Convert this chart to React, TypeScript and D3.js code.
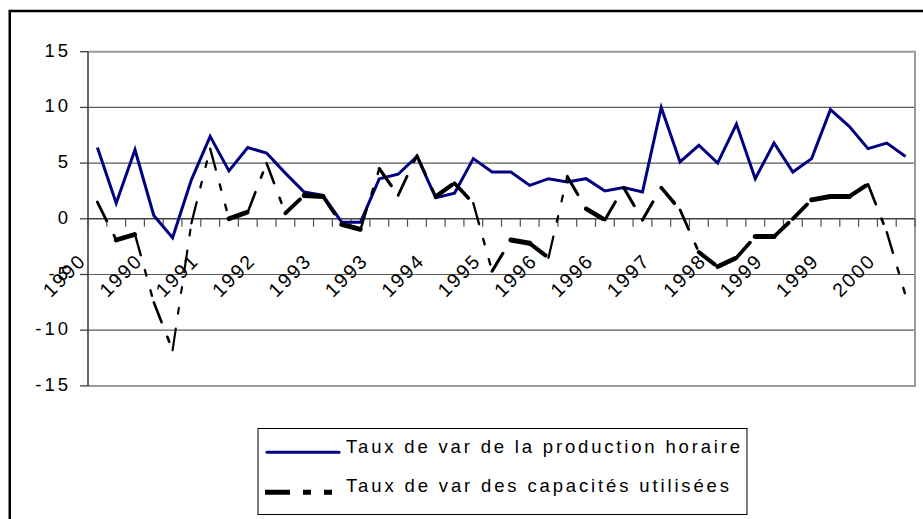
import React from "react";
import * as d3 from "d3";

// one label per quarter, 1990 T1 .. 2000 T4
const periods = [
  "1990", "1990", "1990", "1990", "1991", "1991", "1991", "1991",
  "1992", "1992", "1992", "1992", "1993", "1993", "1993", "1993",
  "1994", "1994", "1994", "1994", "1995", "1995", "1995", "1995",
  "1996", "1996", "1996", "1996", "1997", "1997", "1997", "1997",
  "1998", "1998", "1998", "1998", "1999", "1999", "1999", "1999",
  "2000", "2000", "2000", "2000",
];

const productionHoraire = [
  6.4, 1.4, 6.2, 0.3, -1.7, 3.5, 7.4, 4.3, 6.4, 5.9, 4.1, 2.4,
  2.1, -0.3, -0.3, 3.6, 4.0, 5.6, 1.9, 2.3, 5.4, 4.2, 4.2, 3.0,
  3.6, 3.3, 3.6, 2.5, 2.8, 2.4, 10.0, 5.1, 6.6, 5.0, 8.5, 3.6,
  6.8, 4.2, 5.4, 9.8, 8.3, 6.3, 6.8, 5.6,
];

const capacitesUtilisees = [
  1.5, -1.9, -1.4, -7.5, -11.8, -0.4, 6.3, 0.0, 0.6, 5.0, 0.5, 2.1,
  2.0, -0.5, -0.95, 4.5, 2.1, 5.7, 2.0, 3.2, 1.4, -4.7, -1.9, -2.2,
  -3.5, 3.8, 0.9, -0.1, 2.8, -0.1, 2.8, 0.8, -3.0, -4.3, -3.5, -1.6,
  -1.6, 0.0, 1.7, 2.0, 2.0, 3.1, -1.2, -6.9,
];

const yTicks = [15, 10, 5, 0, -5, -10, -15];
const seriesNames = [
  "Taux de var de la production horaire",
  "Taux de var des capacités utilisées",
];

const W = 923;
const H = 519;
const left = 88;
const right = 915;
const top = 51.7;
const bottom = 385.9;
const font = "'Liberation Sans', Arial, sans-serif";
const dashPattern = [24, 13, 8, 13, 8, 13];

export default function App() {
  const idx = periods.map((_, i) => i);
  const x = d3.scaleBand<number>().domain(idx).range([left, right]);
  const y = d3.scaleLinear().domain([-15, 15]).range([bottom, top]);
  const cx = (i: number) => (x(i) as number) + x.bandwidth() / 2;

  const blueLine = d3
    .line<number>()
    .x((d, i) => cx(i))
    .y((d) => y(d))(productionHoraire);

  // the black series is drawn segment by segment: the dash restarts at each point
  // and the pen is thicker on flat segments than on steep ones
  const segments = d3.pairs(capacitesUtilisees).map(([a, b], i) => {
    const x1 = cx(i), y1 = y(a), x2 = cx(i + 1), y2 = y(b);
    const len = Math.hypot(x2 - x1, y2 - y1);
    const s = (y2 - y1) / len, c = (x2 - x1) / len;
    const w = 2 * Math.sqrt((1.0 * s) ** 2 + (2.5 * c) ** 2);
    const dash = dashPattern.map((v, k) => (k % 2 === 0 ? Math.max(v - w, 0.5) : v + w)).join(" ");
    return { x1, y1, x2, y2, w, dash, key: i };
  });

  const labelIdx = idx.filter((i) => i % 3 === 0);

  return (
    <svg width={W} height={H} style={{ position: "absolute", left: 0, top: 0, background: "#fff" }} fontFamily={font}>
      <rect x={9.75} y={11} width={980} height={600} fill="#fff" stroke="#000" strokeWidth={2.5} />

      {/* gridlines */}
      {yTicks.filter((t) => t !== 15 && t !== -15 && t !== 0).map((t) => (
        <line key={t} x1={left} x2={right} y1={y(t)} y2={y(t)} stroke="#5a5a5a" strokeWidth={1.2} />
      ))}
      {/* plot area border */}
      <path d={`M${left},${top}H${right}V${bottom}H${left}`} fill="none" stroke="#9a9a9a" strokeWidth={2} />

      {/* y axis */}
      <line x1={left} x2={left} y1={top} y2={bottom} stroke="#404040" strokeWidth={1.6} />
      {yTicks.map((t) => (
        <g key={t}>
          <line x1={left - 8} x2={left} y1={y(t)} y2={y(t)} stroke="#404040" strokeWidth={1.3} />
          <text x={71} y={y(t) + 5} textAnchor="end" fontSize={18.5} letterSpacing={3} fill="#000">
            {t}
          </text>
        </g>
      ))}

      {/* x axis at 0 */}
      <line x1={left} x2={right} y1={y(0)} y2={y(0)} stroke="#404040" strokeWidth={1.6} />
      {idx.concat([periods.length]).map((i) => {
        const tx = i < periods.length ? (x(i) as number) : right;
        return <line key={i} x1={tx} x2={tx} y1={y(0)} y2={y(0) + 8} stroke="#505050" strokeWidth={1.2} />;
      })}
      {labelIdx.map((i) => (
        <text
          key={i}
          transform={`translate(${cx(i) - 10},${y(0) + 43}) rotate(-45)`}
          textAnchor="end"
          fontSize={19.5}
          letterSpacing={2}
          fill="#000"
        >
          {periods[i]}
        </text>
      ))}

      {/* series */}
      <path d={blueLine ?? ""} fill="none" stroke="#000080" strokeWidth={3} />
      {segments.map((sg) => (
        <line
          key={sg.key}
          x1={sg.x1}
          y1={sg.y1}
          x2={sg.x2}
          y2={sg.y2}
          stroke="#000"
          strokeWidth={sg.w}
          strokeDasharray={sg.dash}
          strokeLinecap="round"
        />
      ))}

      {/* legend */}
      <rect x={258} y={428.5} width={489} height={86} fill="#fff" stroke="#000" strokeWidth={1} />
      <line x1={267} x2={339} y1={452.3} y2={452.3} stroke="#000080" strokeWidth={3} strokeLinecap="round" />
      <line x1={265} x2={340} y1={492.3} y2={492.3} stroke="#000" strokeWidth={5} strokeDasharray="25 13 8 13 8 13" />
      <text x={346} y={453.3} fontSize={18.5} textLength={394} lengthAdjust="spacing" fill="#000">
        {seriesNames[0]}
      </text>
      <text x={346} y={491.7} fontSize={18.5} textLength={383} lengthAdjust="spacing" fill="#000">
        {seriesNames[1]}
      </text>
    </svg>
  );
}
